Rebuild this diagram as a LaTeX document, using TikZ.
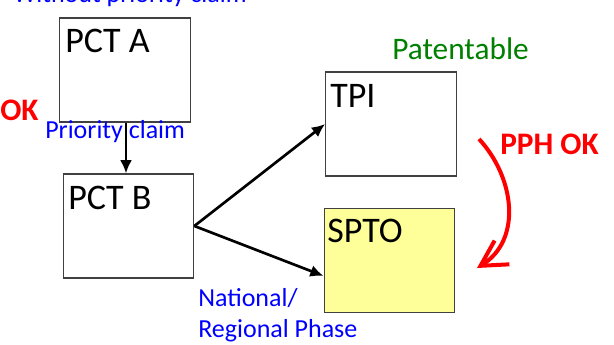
\documentclass[tikz,border=0pt]{standalone}
\usepackage{fontspec}
\setmainfont{Carlito}
\usetikzlibrary{arrows.meta}
\definecolor{boxyellow}{HTML}{FFFF99}
\definecolor{txtblue}{HTML}{0000FF}
\definecolor{txtgreen}{HTML}{008000}
\definecolor{txtred}{HTML}{FF0000}
\definecolor{boxline}{HTML}{404040}
\begin{document}
\begin{tikzpicture}[x=0.75pt,y=-0.75pt,
  box/.style={draw=boxline, line width=0.8pt, fill=white, inner sep=0pt, minimum width=98pt, minimum height=78pt},
  boxlabel/.style={anchor=base west, inner sep=0pt, font=\fontsize{27}{30}\selectfont},
  bluetxt/.style={anchor=base west, inner sep=0pt, text=txtblue, font=\fontsize{19.5}{23}\selectfont},
  greentxt/.style={anchor=base west, inner sep=0pt, text=txtgreen, font=\fontsize{23.5}{27}\selectfont},
  redtxt/.style={anchor=base west, inner sep=0pt, text=txtred, font=\bfseries\fontsize{23.5}{27}\selectfont},
  conn/.style={draw=black, line width=2pt, -{Latex[length=10pt,width=9pt]}},
  pph/.style={draw=txtred, line width=3pt, -{Straight Barb[length=19pt,width=21pt]}}
]
\useasboundingbox (0,0) rectangle (614,345);

% boxes
\node[box] (pcta) at (125,70) {};
\node[box] (pctb) at (128.5,226) {};
\node[box] (tpi) at (391,124) {};
\node[box, fill=boxyellow] (spto) at (389.5,260.5) {};

% box labels
\node[boxlabel] (lpcta) at (65,53) {PCT A};
\node[boxlabel] (lpctb) at (68,210) {PCT B};
\node[boxlabel] (ltpi) at (330,108) {TPI};
\node[boxlabel] (lspto) at (327,243) {SPTO};

% texts
\node[bluetxt] (without) at (13,3) {Without priority claim};
\node[redtxt] (ok) at (0,121) {OK};
\node[bluetxt] (prio) at (45,139) {Priority claim};
\node[greentxt] (pat) at (392,60) {Patentable};
\node[redtxt] (pphok) at (500,155) {PPH OK};
\node[bluetxt] (nat) at (198,307) {National/};
\node[bluetxt] (reg) at (198,337) {Regional Phase};

% connectors
\draw[conn] (pcta.south -| 126,0) -- (pctb.north -| 126,0);
\draw[conn] (pctb.east) -- (tpi.west);
\draw[conn] (pctb.east) -- ([yshift=-11.6pt]spto.west);

% PPH arrow
\coordinate (pphs) at (479,139);
\coordinate (pphe) at (477,268);
\draw[pph] (pphs) .. controls (515,178) and (522,240) .. (pphe);
\end{tikzpicture}
\end{document}
